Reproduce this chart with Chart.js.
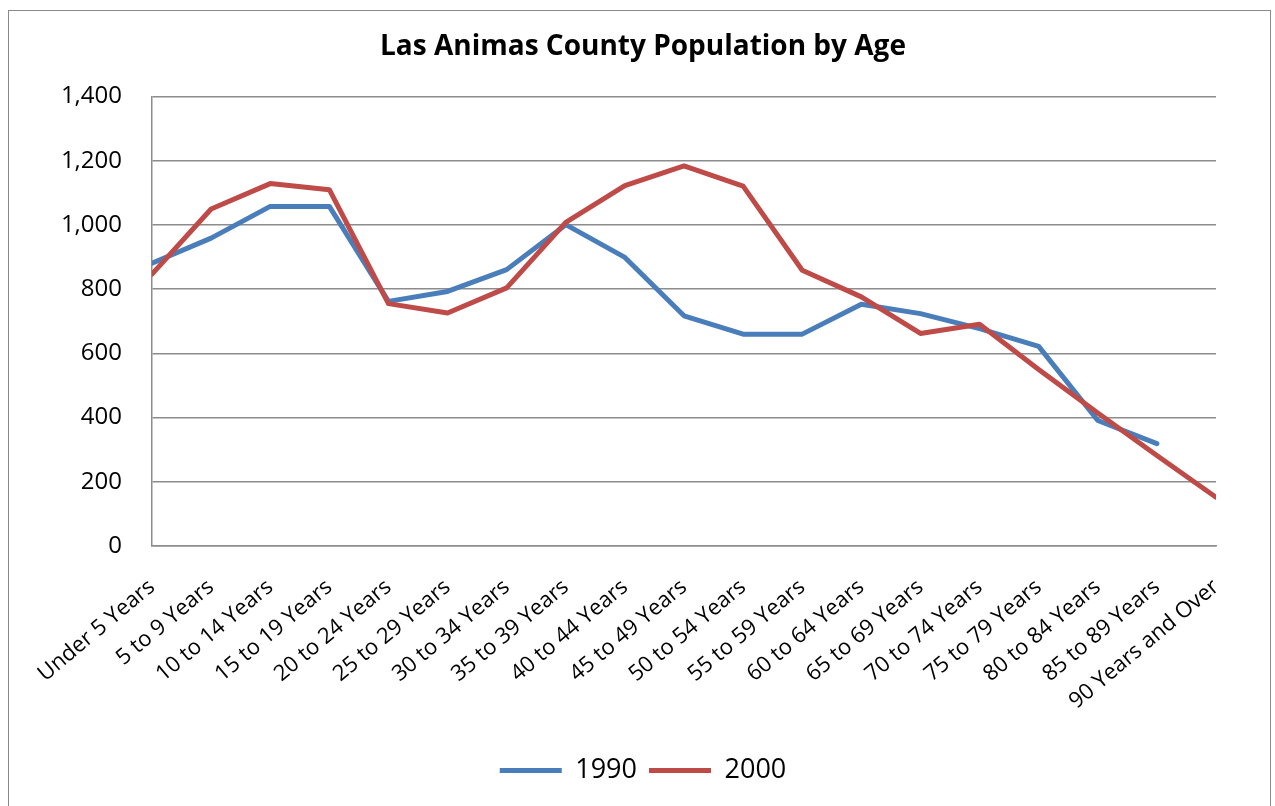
<!DOCTYPE html>
<html>
<head>
<meta charset="utf-8">
<script src="https://cdn.jsdelivr.net/npm/chart.js@4.4.1/dist/chart.umd.min.js"></script>
<style>
  html, body { margin: 0; padding: 0; background: #fff; }
  #frame { position: absolute; left: 8px; top: 10px; width: 1261px; height: 830px; border: 1px solid #8a8a8a; }
  #chart { position: absolute; left: 0; top: 0; }
</style>
</head>
<body>
<div id="frame"></div>
<canvas id="chart" width="1275" height="806"></canvas>
<script>
const ageGroups = [
  'Under 5 Years', '5 to 9 Years', '10 to 14 Years', '15 to 19 Years', '20 to 24 Years',
  '25 to 29 Years', '30 to 34 Years', '35 to 39 Years', '40 to 44 Years', '45 to 49 Years',
  '50 to 54 Years', '55 to 59 Years', '60 to 64 Years', '65 to 69 Years', '70 to 74 Years',
  '75 to 79 Years', '80 to 84 Years', '85 to 89 Years', '90 Years and Over'
];
const pop1990 = [881, 959, 1058, 1058, 762, 793, 861, 1001, 899, 717, 660, 660, 753, 724, 677, 622, 391, 319, null];
const pop2000 = [847, 1050, 1129, 1110, 755, 726, 804, 1008, 1123, 1184, 1121, 859, 776, 662, 691, 550, 414, 282, 152];
const yTicks = [0, 200, 400, 600, 800, 1000, 1200, 1400];

const FONT = "'Open Sans', 'DejaVu Sans', sans-serif";
const GRID = '#8c8c8c';

function series(label, data, color, order) {
  return {
    label, data, order,
    borderColor: color, backgroundColor: color,
    borderWidth: 5, pointRadius: 0, tension: 0,
    borderJoinStyle: 'round', borderCapStyle: 'round',
    spanGaps: false, clip: 0
  };
}

new Chart(document.getElementById('chart').getContext('2d'), {
  type: 'line',
  data: {
    labels: ageGroups,
    datasets: [
      series('1990', pop1990, '#4a7ebb', 1),
      series('2000', pop2000, '#be4b48', 0)
    ]
  },
  options: {
    responsive: false,
    animation: false,
    locale: 'en-US',
    layout: { padding: { left: 55, right: 44, top: 20, bottom: 12 } },
    plugins: {
      title: {
        display: true,
        text: 'Las Animas County Population by Age',
        color: '#000',
        font: { family: FONT, size: 28, weight: 'bold', lineHeight: 1.2 },
        padding: { top: 10, bottom: 33 }
      },
      legend: {
        position: 'bottom',
        labels: {
          color: '#000',
          font: { family: FONT, size: 27 },
          usePointStyle: true,
          pointStyle: 'line',
          pointStyleWidth: 62,
          padding: 12,
          sort: (a, b) => a.datasetIndex - b.datasetIndex
        }
      },
      tooltip: { enabled: false }
    },
    scales: {
      x: {
        offset: false,
        grid: { display: false },
        border: { display: true, color: GRID, width: 1.5 },
        ticks: {
          color: '#000',
          font: { family: FONT, size: 22 },
          autoSkip: false,
          maxRotation: 40,
          minRotation: 40,
          padding: 20
        },
        afterFit: s => { s.height = 199; }
      },
      y: {
        min: 0,
        max: 1400,
        afterBuildTicks: s => { s.ticks = yTicks.map(v => ({ value: v })); },
        grid: { color: GRID, lineWidth: 1.5, drawTicks: false },
        border: { display: true, color: GRID, width: 1.5 },
        ticks: {
          color: '#000',
          font: { family: FONT, size: 24 },
          padding: 30
        },
        afterFit: s => { s.width = 97; }
      },
      // empty right-hand strip so the title and legend centre like the original
      spacer: {
        type: 'linear',
        position: 'right',
        grid: { display: false },
        border: { display: false },
        ticks: { display: false },
        afterFit: s => { s.width = 15; }
      }
    }
  }
});
</script>
</body>
</html>
